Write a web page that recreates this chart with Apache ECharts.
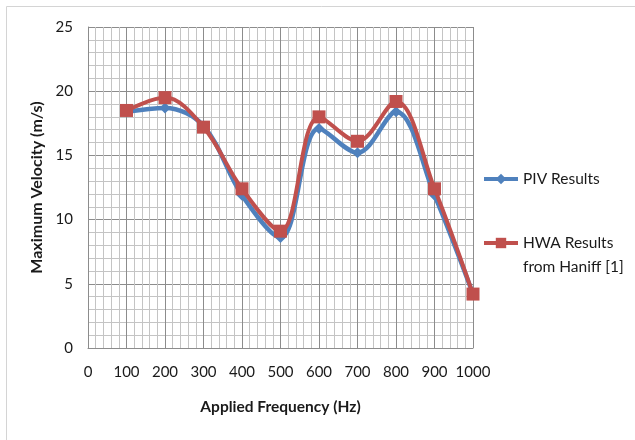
<!DOCTYPE html>
<html>
<head>
<meta charset="utf-8">
<script src="https://cdn.jsdelivr.net/npm/echarts@6/dist/echarts.min.js"></script>
<style>html,body{margin:0;padding:0;background:#fff}#c{width:635px;height:440px}</style>
</head>
<body>
<div id="c"></div>
<script>
const freqs = [100, 200, 300, 400, 500, 600, 700, 800, 900, 1000];
const pivResults = [18.4, 18.7, 17.3, 11.9, 8.6, 17.1, 15.2, 18.4, 11.9, 4.2];
const hwaResults = [18.5, 19.5, 17.2, 12.4, 9.1, 18.0, 16.1, 19.2, 12.4, 4.2];
const xTicks = [0, 100, 200, 300, 400, 500, 600, 700, 800, 900, 1000];
const yTicks = [0, 5, 10, 15, 20, 25];

const pair = (xs, ys) => xs.map((x, i) => [x, ys[i]]);
const FONT = 'Lato, "Liberation Sans", sans-serif';

const chart = echarts.init(document.getElementById('c'), null, {renderer: 'canvas'});
chart.setOption({
  animation: false,
  backgroundColor: '#fff',
  textStyle: {fontFamily: FONT},
  graphic: [{
    type: 'rect', shape: {x: 6.5, y: 6.5, width: 660, height: 460},
    style: {fill: null, stroke: '#d4d4d4', lineWidth: 1}, silent: true, z: -1
  }],
  grid: {left: 88, top: 27, width: 385, height: 321, containLabel: false},
  xAxis: {
    type: 'value', min: xTicks[0], max: xTicks[xTicks.length - 1], interval: 100,
    name: 'Applied Frequency (Hz)', nameLocation: 'middle', nameGap: 51,
    nameTextStyle: {fontFamily: FONT, fontWeight: 'bold', fontSize: 15.5, color: '#1a1a1a'},
    axisLine: {show: true, lineStyle: {color: '#8c8c8c', width: 1}},
    axisTick: {show: false},
    axisLabel: {margin: 17, fontSize: 15, color: '#1a1a1a', fontFamily: FONT, formatter: v => String(v)},
    splitLine: {show: true, lineStyle: {color: '#8c8c8c', width: 1}},
    minorTick: {show: false, splitNumber: 5},
    minorSplitLine: {show: true, lineStyle: {color: '#c4c4c4', width: 1}}
  },
  yAxis: {
    type: 'value', min: yTicks[0], max: yTicks[yTicks.length - 1], interval: 5,
    name: 'Maximum Velocity (m/s)', nameLocation: 'middle', nameGap: 34,
    nameTextStyle: {fontFamily: FONT, fontWeight: 'bold', fontSize: 16, color: '#1a1a1a'},
    axisLine: {show: true, lineStyle: {color: '#8c8c8c', width: 1}},
    axisTick: {show: false},
    axisLabel: {margin: 15, fontSize: 15, color: '#1a1a1a', fontFamily: FONT, formatter: v => String(v)},
    splitLine: {show: true, lineStyle: {color: '#8c8c8c', width: 1}},
    minorTick: {show: false, splitNumber: 5},
    minorSplitLine: {show: true, lineStyle: {color: '#c4c4c4', width: 1}}
  },
  legend: [{
    data: [{name: 'PIV Results'}],
    left: 482, top: 171, orient: 'vertical', padding: 0,
    itemWidth: 34, itemHeight: 13, itemGap: 4,
    lineStyle: {width: 4},
    textStyle: {fontSize: 15.5, color: '#1a1a1a', fontFamily: FONT}
  }, {
    data: [{name: 'HWA Results from Haniff [1]'}],
    left: 482, top: 207, orient: 'vertical', padding: 0,
    itemWidth: 34, itemHeight: 13, itemGap: 4,
    lineStyle: {width: 4},
    formatter: () => '\u00a0\nHWA Results\nfrom Haniff [1]',
    textStyle: {fontSize: 15.5, color: '#1a1a1a', fontFamily: FONT, lineHeight: 24}
  }],
  series: [{
    name: 'PIV Results', type: 'line', smooth: 0.35,
    data: pair(freqs, pivResults),
    symbol: 'diamond', symbolSize: 11,
    lineStyle: {color: '#4F81BD', width: 4.5},
    itemStyle: {color: '#4F81BD'}, z: 2
  }, {
    name: 'HWA Results from Haniff [1]', type: 'line', smooth: 0.35,
    data: pair(freqs, hwaResults),
    symbol: 'rect', symbolSize: 13,
    lineStyle: {color: '#C0504D', width: 4},
    itemStyle: {color: '#C0504D'}, z: 3
  }]
});
</script>
</body>
</html>
